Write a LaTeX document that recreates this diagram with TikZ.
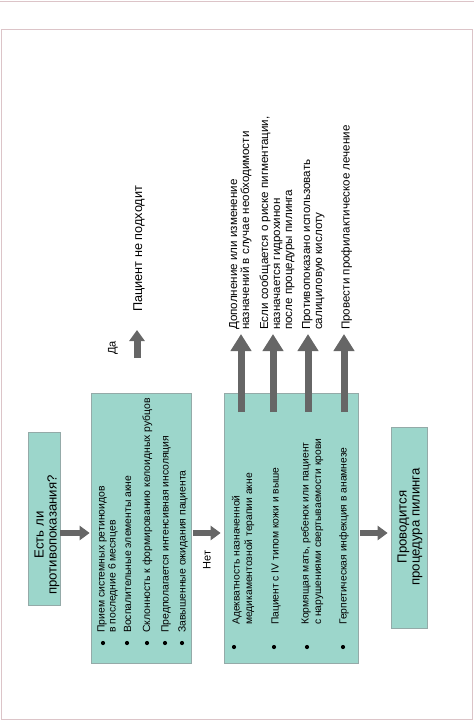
\documentclass[tikz,border=0pt]{standalone}
\usepackage{fontspec}
\setmainfont{Liberation Sans}
\usetikzlibrary{arrows.meta}
\definecolor{boxfill}{HTML}{9CD6CB}
\definecolor{boxline}{HTML}{94AAA8}
\definecolor{arr}{HTML}{666666}
\definecolor{framec}{HTML}{DCC4C8}
\begin{document}
\begin{tikzpicture}[x=1pt,y=-1pt,
  box/.style={draw=boxline, fill=boxfill, line width=0.7pt, inner sep=0pt},
  harrow/.style={draw=arr, line width=6pt, -{Triangle[width=14pt,length=10pt]}},
  uparrow/.style={draw=arr, line width=7pt, -{Triangle[width=20pt,length=17pt]}},
  yesarrow/.style={draw=arr, line width=7pt, -{Triangle[width=15pt,length=11pt]}},
  bul/.style={circle, fill=black, inner sep=0pt, minimum size=4.2pt},
  itemtxt/.style={rotate=90, anchor=base west, inner sep=0pt, align=left, font=\fontsize{10.4}{11}\selectfont},
  item3txt/.style={rotate=90, anchor=base west, inner sep=0pt, align=left, font=\fontsize{10.3}{12.5}\selectfont},
  uptxt/.style={rotate=90, anchor=base west, inner sep=0pt, align=left, font=\fontsize{11.6}{12}\selectfont},
  bigtxt/.style={rotate=90, inner sep=0pt, align=center, font=\fontsize{13.2}{13}\selectfont}
]
\useasboundingbox (0,0) rectangle (474,720);
% frame
\draw[framec, line width=0.7pt] (0,1) -- (474,1);
\draw[framec, line width=0.7pt] (1,29) rectangle (472,719);

% boxes
\node[box, minimum width=32, minimum height=173] (q) at (44,518.5) {};
\node[bigtxt] (qt) at (47,535) {Есть ли\\противопоказания?};

\node[box, minimum width=100, minimum height=270] (b2) at (141,528) {};
\node[box, minimum width=134, minimum height=270] (b3) at (291,528) {};
\node[box, minimum width=36, minimum height=201] (b4) at (409,527.5) {};
\node[bigtxt] (b4t) at (410,527) {Проводится\\процедура пилинга};

% box 2 items
\node[bul] (d1) at (103,643) {};
\node[bul] (d2) at (127,643) {};
\node[bul] (d3) at (147,643) {};
\node[bul] (d4) at (165,643) {};
\node[bul] (d5) at (182,643) {};
\node[itemtxt] (i1) at (115.5,633) {Прием системных ретиноидов\\в последние 6 месяцев};
\node[itemtxt] (i2) at (131,633) {Воспалительные элементы акне};
\node[itemtxt] (i3) at (150,633) {Склонность к формированию келоидных рубцов};
\node[itemtxt] (i4) at (168.5,633) {Предполагается интенсивная инсоляция};
\node[itemtxt] (i5) at (185.5,633) {Завышенные ожидания пациента};

% box 3 items
\node[bul] (e1) at (234,647) {};
\node[bul] (e2) at (274,647) {};
\node[bul] (e3) at (307,647) {};
\node[bul] (e4) at (343,647) {};
\node[item3txt] (j1) at (252,625) {Адекватность назначенной\\медикаментозной терапии акне};
\node[item3txt] (j2) at (278.5,625) {Пациент с IV типом кожи и выше};
\node[item3txt] (j3) at (321,625) {Кормящая мать, ребенок или пациент\\с нарушениями свертываемости крови};
\node[item3txt] (j4) at (346.5,625) {Герпетическая инфекция в анамнезе};

% horizontal arrows
\coordinate (ay) at (0,533);
\draw[harrow] (q.east |- ay) -- ([xshift=-1pt]b2.west |- ay);
\draw[harrow] ([xshift=2pt]b2.east |- ay) -- ([xshift=-3pt]b3.west |- ay);
\draw[harrow] ([xshift=2pt]b3.east |- ay) -- ([xshift=-3pt]b4.west |- ay);
\node[rotate=90, inner sep=0pt, font=\fontsize{11}{12}\selectfont] (no) at (207,560) {Нет};

% up arrows
\coordinate (u1s) at (241,412); \coordinate (u1e) at (241,334);
\coordinate (u2s) at (273,412); \coordinate (u2e) at (273,334);
\coordinate (u3s) at (308,412); \coordinate (u3e) at (308,334);
\coordinate (u4s) at (344,412); \coordinate (u4e) at (344,334);
\draw[uparrow] (u1s) -- (u1e);
\draw[uparrow] (u2s) -- (u2e);
\draw[uparrow] (u3s) -- (u3e);
\draw[uparrow] (u4s) -- (u4e);

\node[uptxt] (t1) at (249,330) {Дополнение или изменение\\назначений в случае необходимости};
\node[uptxt] (t2) at (292,330) {Если сообщается о риске пигментации,\\назначается гидрохинон\\после процедуры пилинга};
\node[uptxt] (t3) at (322,330) {Противопоказано использовать\\салициловую кислоту};
\node[uptxt] (t4) at (349.5,330) {Провести профилактическое лечение};

% yes arrow
\coordinate (ys) at (137,358); \coordinate (ye) at (137,330);
\draw[yesarrow] (ys) -- (ye);
\node[rotate=90, inner sep=0pt, font=\fontsize{11}{12}\selectfont] (yes) at (113,348) {Да};
\node[rotate=90, anchor=base west, inner sep=0pt, font=\fontsize{12.7}{14}\selectfont] (nf) at (142,312) {Пациент не подходит};
\end{tikzpicture}
\end{document}
